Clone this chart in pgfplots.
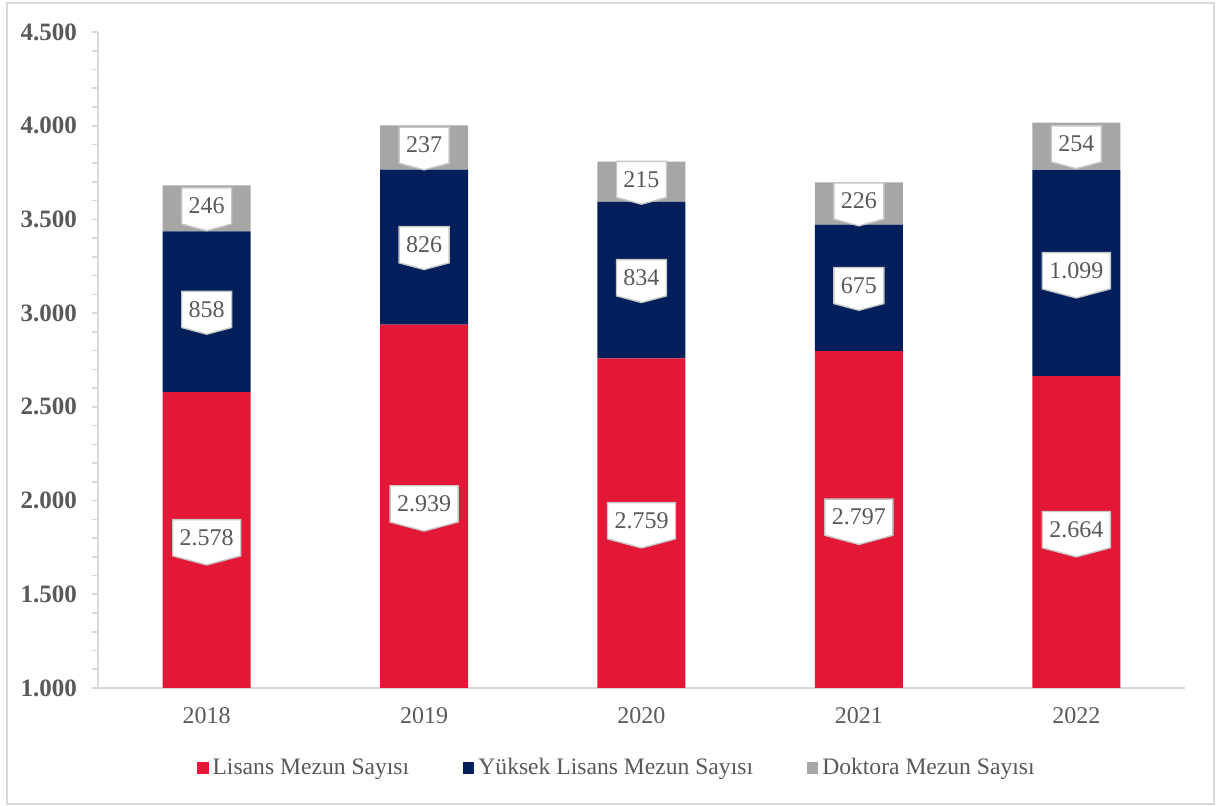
\documentclass[border=0pt]{standalone}
\usepackage{pgfplots}
\pgfplotsset{compat=1.18}
\usepackage{fontspec}
\setmainfont{Liberation Serif}
\usetikzlibrary{shapes.symbols}

\definecolor{lisans}{RGB}{227,24,55}
\definecolor{yuksek}{RGB}{0,31,91}
\definecolor{doktora}{RGB}{166,166,166}
\definecolor{txt}{RGB}{89,89,89}
\definecolor{axisgray}{RGB}{217,217,217}

% bar values
\pgfplotstableread{
x lisans yuksek doktora
0 2578 858  246
1 2939 826  237
2 2759 834  215
3 2797 675  226
4 2664 1099 254
}\grads

% label positions (middle of visible part of each segment) and values
\pgfplotstableread{
x y v
0 1789   2578
1 1969.5 2939
2 1879.5 2759
3 1898.5 2797
4 1832   2664
0 3007   858
1 3352   826
2 3176   834
3 3134.5 675
4 3213.5 1099
0 3559   246
1 3883.5 237
2 3700.5 215
3 3585   226
4 3890   254
}\labels

\pgfplotsset{
  base/.style={
    scale only axis, width=543.5pt, height=328pt,
    xmin=-0.5, xmax=4.5, ymin=1000, ymax=4500,
    /pgf/number format/1000 sep={.},
    /pgf/number format/assume math mode=true,
  },
  sqleg/.style={legend image code/.code={\fill[##1] (0pt,-3pt) rectangle (5.6pt,3pt);}},
}

\begin{document}
\begin{tikzpicture}
\begin{axis}[base,
  ybar stacked, bar width=44pt,
  axis lines*=left,
  axis line style={axisgray, line width=0.8pt},
  xtick={0,1,2,3,4}, xticklabels={2018,2019,2020,2021,2022},
  xtick style={draw=none},
  ytick={1000,1500,...,4500}, minor y tick num=4,
  tick align=outside,
  major tick length=3pt, minor tick length=3pt,
  ytick style={axisgray, line width=0.8pt},
  minor y tick style={axisgray, line width=0.8pt},
  scaled y ticks=false,
  xticklabel style={font=\fontsize{12}{14}\selectfont, text=txt, yshift=-3pt},
  yticklabel style={font=\bfseries\fontsize{12.5}{14}\selectfont, text=txt, xshift=-4pt},
  legend style={at={(0.4784,-0.122)}, anchor=center, legend columns=3, draw=none,
    font=\fontsize{11.8}{14}\selectfont, text=txt,
    /tikz/every even column/.append style={column sep=25pt}},
  legend cell align=left,
]
\addplot[fill=lisans, draw=none, sqleg] table[x=x, y=lisans] {\grads};
\addlegendentry{Lisans Mezun Sayısı}
\addplot[fill=yuksek, draw=none, sqleg] table[x=x, y=yuksek] {\grads};
\addlegendentry{Yüksek Lisans Mezun Sayısı}
\addplot[fill=doktora, draw=none, sqleg] table[x=x, y=doktora] {\grads};
\addlegendentry{Doktora Mezun Sayısı}
\end{axis}

\begin{axis}[base, hide axis]
\addplot[draw=none, mark=none, point meta=explicit,
  nodes near coords,
  every node near coord/.append style={
    signal, signal to=south, signal pointer angle=150,
    fill=white, draw=black!22, line width=0.7pt, text=txt,
    font=\fontsize{12}{14}\selectfont,
    inner xsep=3.5pt, inner ysep=5pt,
    anchor=center, yshift=1.2pt}]
  table[x=x, y=y, meta=v] {\labels};
\end{axis}

\draw[axisgray, line width=1.2pt] (-45.5pt,-58pt) rectangle (558pt,342.5pt);
\pgfresetboundingbox
\useasboundingbox (-49pt,-59pt) rectangle (559.5pt,344pt);
\end{tikzpicture}
\end{document}
